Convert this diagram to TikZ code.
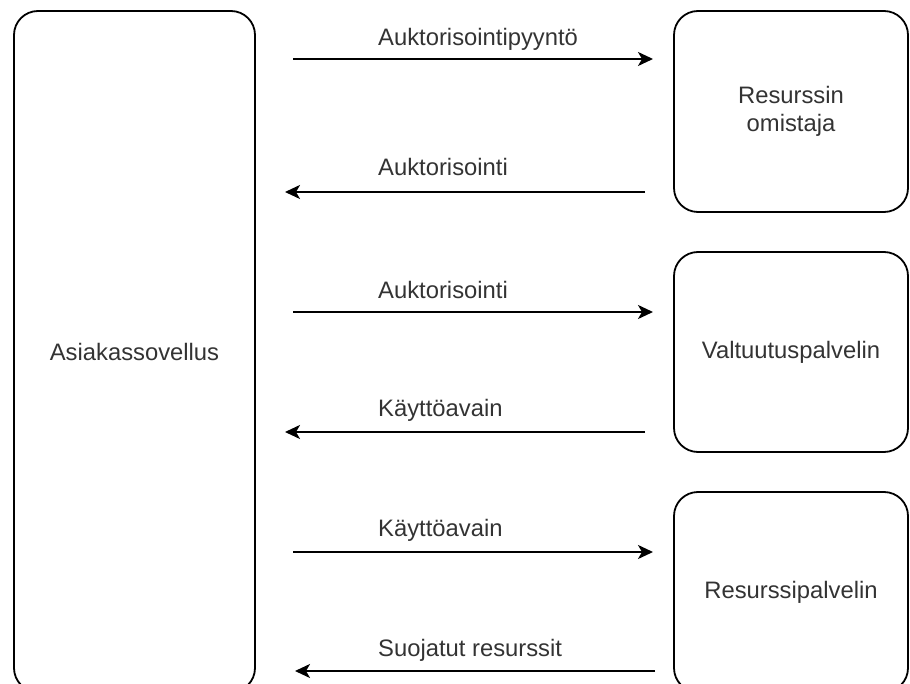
\documentclass[tikz,border=0pt]{standalone}
\usepackage{fontspec}
\setmainfont{Liberation Sans}
\usepackage{tikz}
\usetikzlibrary{arrows.meta,positioning}
\usepackage{xcolor}
\definecolor{txtgray}{HTML}{333333}

\begin{document}
\begin{tikzpicture}[>={Stealth[length=15pt,width=14pt,inset=4pt]},x=1pt,y=-1pt,
    party/.style={draw,line width=1.8pt,rounded corners=24pt,minimum width=234pt,minimum height=200pt,
      align=center,text=txtgray,font=\fontsize{23.8}{27.5}\selectfont},
    msg/.style={anchor=west,inner sep=0pt,text=txtgray,font=\fontsize{23.8}{27.5}\selectfont},
    flow/.style={->,line width=2pt}]
  \useasboundingbox (0,0) rectangle (910,684);
  % osapuolet
  \node[party,minimum width=241pt,minimum height=681pt] (client) at (134.5,351.5) {Asiakassovellus};
  \node[party,minimum height=201pt] (owner) at (791,111.5) {Resurssin\\omistaja};
  \node[party] (authsrv) at (791,352) {Valtuutuspalvelin};
  \node[party] (ressrv) at (791,592) {Resurssipalvelin};
  % viestien päätepisteet
  \coordinate (m1a) at (293,59);  \coordinate (m1b) at (653,59);
  \coordinate (m2a) at (645,192); \coordinate (m2b) at (285,192);
  \coordinate (m3a) at (293,312); \coordinate (m3b) at (653,312);
  \coordinate (m4a) at (645,432); \coordinate (m4b) at (285,432);
  \coordinate (m5a) at (293,552); \coordinate (m5b) at (653,552);
  \coordinate (m6a) at (655,671); \coordinate (m6b) at (295,671);
  % viestit
  \draw[flow] (m1a) -- (m1b);
  \draw[flow] (m2a) -- (m2b);
  \draw[flow] (m3a) -- (m3b);
  \draw[flow] (m4a) -- (m4b);
  \draw[flow] (m5a) -- (m5b);
  \draw[flow] (m6a) -- (m6b);
  \node[msg] (l1) at (378,39) {Auktorisointipyyntö};
  \node[msg] (l2) at (378,167) {Auktorisointi};
  \node[msg] (l3) at (378,290) {Auktorisointi};
  \node[msg] (l4) at (378,410) {Käyttöavain};
  \node[msg] (l5) at (378,530) {Käyttöavain};
  \node[msg] (l6) at (378,650) {Suojatut resurssit};
\end{tikzpicture}
\end{document}
